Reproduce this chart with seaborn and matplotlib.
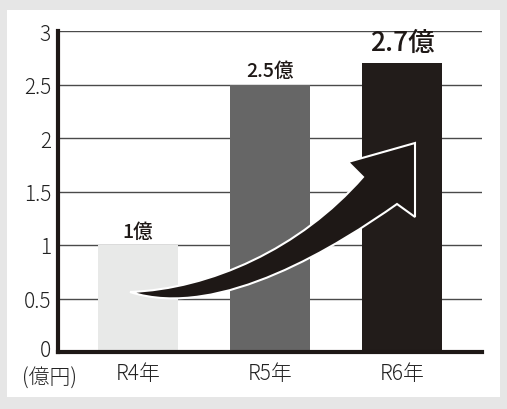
import matplotlib
matplotlib.use("Agg")
import matplotlib.pyplot as plt
import matplotlib.transforms as mtransforms
import seaborn as sns
import pandas as pd
import numpy as np
from matplotlib.path import Path
from matplotlib.patches import PathPatch, Rectangle

categories = ["R4年", "R5年", "R6年"]
values = [1.0, 2.5, 2.7]
value_labels = ["1億", "2.5億", "2.7億"]
bar_colors = ["#e8e9e8", "#666666", "#221c1a"]
y_ticks = [0, 0.5, 1, 1.5, 2, 2.5, 3]
y_tick_labels = ["0", "0.5", "1", "1.5", "2", "2.5", "3"]
unit_label = "(億円)"

sns.set_theme(style="white")
plt.rcParams["font.family"] = ["Noto Sans CJK JP", "DejaVu Sans"]

fig = plt.figure(figsize=(5.07, 4.10), dpi=100)
fig.patch.set_facecolor("#e6e6e6")
bg = Rectangle((7/507, 1-398/410), 493/507, 387/410,
               transform=fig.transFigure, facecolor="white",
               edgecolor="none", zorder=-10)
fig.patches.append(bg)
ax = fig.add_axes([58/507, 57/410, 424/507, 321/410])
ax.set_zorder(1)
ax.set_facecolor("none")

df = pd.DataFrame({"cat": categories, "val": values})
sns.barplot(data=df, x="cat", y="val", hue="cat", palette=bar_colors,
            width=0.606, legend=False, ax=ax, zorder=2, saturation=1,
            linewidth=0)

ax.set_xlim(-0.606, 2.606)
ax.set_ylim(0, 3)
ax.set_yticks(y_ticks)
ax.set_yticklabels(y_tick_labels)
for yv in y_ticks[1:]:
    ax.axhline(yv, color="#4a4a4a", lw=1.0, zorder=1)
ax.set_xlabel("")
ax.set_ylabel("")
for s in ["top", "right"]:
    ax.spines[s].set_visible(False)
ax.spines["left"].set_color("#1e1816")
ax.spines["left"].set_linewidth(3)
ax.spines["bottom"].set_color("#1e1816")
ax.spines["bottom"].set_linewidth(3)
ax.spines["left"].set_zorder(5)
ax.spines["bottom"].set_zorder(5)
ax.tick_params(axis="both", length=0, labelsize=15, colors="#222222")
ax.tick_params(axis="y", pad=5)
ax.tick_params(axis="x", pad=7)
for t in ax.get_xticklabels() + ax.get_yticklabels():
    t.set_fontweight("light")
# nudge the "0" label up slightly as in the reference
zero_lab = ax.get_yticklabels()[0]
zero_lab.set_transform(zero_lab.get_transform() +
                       mtransforms.ScaledTranslation(0, 4/100, fig.dpi_scale_trans))

# value labels
for i, (v, lab) in enumerate(zip(values, value_labels)):
    big = i == len(values) - 1
    ax.annotate(lab, (i, v), xytext=(0, 5 if big else 3), textcoords="offset points",
                ha="center", va="bottom", fontsize=19 if big else 14,
                fontweight="medium", color="#1e1816", zorder=6)

ax.text(-0.019, -0.045, unit_label, transform=ax.transAxes, ha="center", va="top",
        fontsize=15, fontweight="light", color="#222222")

# decorative curved arrow (pixel-space design, converted to data coords)
def px(xp, yp):
    return ((xp - 138) / 132.0, (353 - yp) / 107.0)

verts = [px(130, 293), px(210, 290), px(300, 250), px(363, 178),
         px(348, 163), px(415, 144), px(415, 218), px(397, 205),
         px(340, 245), px(220, 322), px(130, 293), px(130, 293)]
codes = [Path.MOVETO, Path.CURVE4, Path.CURVE4, Path.CURVE4,
         Path.LINETO, Path.LINETO, Path.LINETO, Path.LINETO,
         Path.CURVE4, Path.CURVE4, Path.CURVE4, Path.CLOSEPOLY]
arrow = PathPatch(Path(verts, codes), facecolor="#1e1816", edgecolor="white",
                  lw=1.5, zorder=4, joinstyle="miter", clip_on=False)
ax.add_patch(arrow)

fig.savefig("out.png", dpi=100, facecolor=fig.get_facecolor())
